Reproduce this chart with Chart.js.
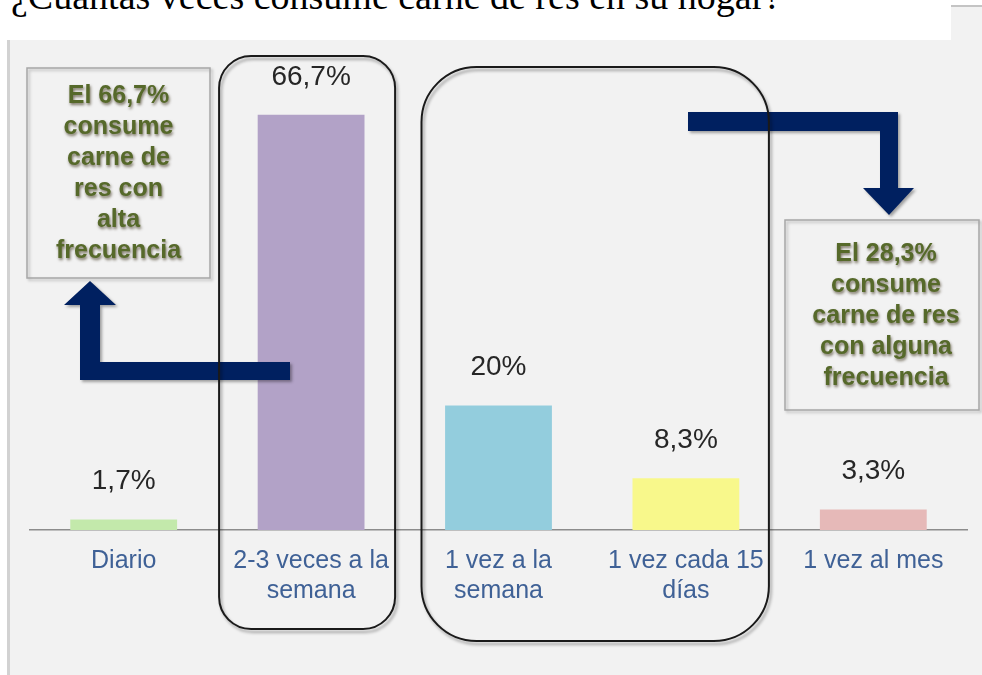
<!DOCTYPE html>
<html>
<head>
<meta charset="utf-8">
<script src="https://cdn.jsdelivr.net/npm/chart.js@4/dist/chart.umd.min.js"></script>
<style>
  html, body { margin:0; padding:0; background:#ffffff; width:982px; height:675px; overflow:hidden; }
  #panel { position:absolute; left:7px; top:5px; width:972px; height:670px; background:#f2f2f2;
           border-left:3px solid #d2d2d2; border-top:2px solid #c4c4c4; }
  #titlebox { position:absolute; left:0; top:0; width:951px; height:40px; background:#ffffff; overflow:hidden; }
  #title { position:absolute; left:11px; top:-23px; font-family:"Liberation Serif","Times New Roman",serif;
           font-size:38px; line-height:38px; color:#000; white-space:nowrap; }
  #c { position:absolute; left:0; top:0; }
</style>
</head>
<body>
<div id="panel"></div>
<div id="titlebox"><div id="title">¿Cuántas veces consume carne de res en su hogar?</div></div>
<canvas id="c" width="982" height="675"></canvas>
<script>
const categories = ["Diario", ["2-3 veces a la", "semana"], ["1 vez a la", "semana"], ["1 vez cada 15", "días"], "1 vez al mes"];
const values = [1.7, 66.7, 20, 8.3, 3.3];
const barColors = ["#c3e9ab", "#b2a2c7", "#93cddd", "#f8f88b", "#e6b9b8"];
const noteLeft = ["El 66,7%", "consume", "carne de", "res con", "alta", "frecuencia"];
const noteRight = ["El 28,3%", "consume", "carne de res", "con alguna", "frecuencia"];

function fmt(v) { return String(v).replace('.', ',') + '%'; }

function roundRect(ctx, x, y, w, h, r) {
  ctx.beginPath();
  ctx.moveTo(x + r, y);
  ctx.lineTo(x + w - r, y);
  ctx.arcTo(x + w, y, x + w, y + r, r);
  ctx.lineTo(x + w, y + h - r);
  ctx.arcTo(x + w, y + h, x + w - r, y + h, r);
  ctx.lineTo(x + r, y + h);
  ctx.arcTo(x, y + h, x, y + h - r, r);
  ctx.lineTo(x, y + r);
  ctx.arcTo(x, y, x + r, y, r);
  ctx.closePath();
}

const overlay = {
  id: 'overlay',
  afterDraw(chart) {
    const ctx = chart.ctx;
    const xs = chart.scales.x;
    const meta = chart.getDatasetMeta(0);

    // arrows
    ctx.save();
    ctx.fillStyle = '#002060';
    ctx.shadowColor = 'rgba(0,0,0,0.35)';
    ctx.shadowBlur = 3; ctx.shadowOffsetX = 2; ctx.shadowOffsetY = 2;
    // left arrow (from purple bar up to left note)
    ctx.beginPath();
    ctx.moveTo(290, 362); ctx.lineTo(290, 380); ctx.lineTo(80, 380); ctx.lineTo(80, 305);
    ctx.lineTo(64, 305); ctx.lineTo(90, 281); ctx.lineTo(116, 305); ctx.lineTo(100, 305);
    ctx.lineTo(100, 362); ctx.closePath(); ctx.fill();
    // right arrow (down to right note)
    ctx.beginPath();
    ctx.moveTo(688, 112); ctx.lineTo(898, 112); ctx.lineTo(898, 188); ctx.lineTo(914, 188);
    ctx.lineTo(889, 215); ctx.lineTo(863, 188); ctx.lineTo(880, 188); ctx.lineTo(880, 131);
    ctx.lineTo(688, 131); ctx.closePath(); ctx.fill();
    ctx.restore();

    // rounded group frames
    ctx.save();
    ctx.strokeStyle = '#1a1a1a';
    ctx.lineWidth = 2;
    ctx.shadowColor = 'rgba(0,0,0,0.35)';
    ctx.shadowBlur = 3; ctx.shadowOffsetX = 2; ctx.shadowOffsetY = 3;
    const c1 = xs.getPixelForValue(1);
    roundRect(ctx, c1 - 92, 56, 176, 573, 32); ctx.stroke();
    const c2 = xs.getPixelForValue(2), c3 = xs.getPixelForValue(3);
    roundRect(ctx, c2 - 77, 67, (c3 + 83) - (c2 - 77), 574, 55); ctx.stroke();
    ctx.restore();

    // note boxes
    ctx.save();
    ctx.strokeStyle = '#a6a6a6';
    ctx.lineWidth = 1.5;
    ctx.shadowColor = 'rgba(0,0,0,0.25)';
    ctx.shadowBlur = 3; ctx.shadowOffsetX = 2; ctx.shadowOffsetY = 2;
    ctx.strokeRect(27, 68, 183, 210);
    ctx.strokeRect(785, 220, 194, 190);
    ctx.restore();

    ctx.save();
    ctx.font = 'bold 25px "Liberation Sans", Arial, sans-serif';
    ctx.textAlign = 'center';
    ctx.textBaseline = 'middle';
    ctx.fillStyle = '#56692a';
    ctx.shadowColor = 'rgba(40,30,0,0.6)';
    ctx.shadowBlur = 3; ctx.shadowOffsetX = 1; ctx.shadowOffsetY = 2;
    noteLeft.forEach((t, i) => ctx.fillText(t, 118.5, 96 + i * 31));
    noteRight.forEach((t, i) => ctx.fillText(t, 886, 254 + i * 31));
    ctx.restore();

    // value labels
    ctx.save();
    ctx.font = '28px "Liberation Sans", Arial, sans-serif';
    ctx.textAlign = 'center';
    ctx.textBaseline = 'middle';
    ctx.fillStyle = '#262626';
    meta.data.forEach((bar, i) => {
      ctx.fillText(fmt(values[i]), bar.x, bar.y - 38);
    });
    ctx.restore();
  }
};

new Chart(document.getElementById('c'), {
  type: 'bar',
  data: {
    labels: categories,
    datasets: [{
      data: values,
      backgroundColor: barColors,
      borderWidth: 0,
      categoryPercentage: 1,
      barPercentage: 0.57
    }]
  },
  options: {
    responsive: false,
    animation: false,
    layout: { padding: { left: 30, right: 15, top: 32, bottom: 0 } },
    plugins: { legend: { display: false }, tooltip: { enabled: false } },
    scales: {
      x: {
        grid: { display: false, drawTicks: false },
        border: { display: true, color: '#8c8c8c', width: 1.5 },
        ticks: {
          color: '#3f6196',
          font: { family: '"Liberation Sans", Arial, sans-serif', size: 25 },
          padding: 16, maxRotation: 0, autoSkip: false
        },
        afterFit(s) { s.height = 145; }
      },
      y: { display: false, min: 0, max: 80 }
    }
  },
  plugins: [overlay]
});
</script>
</body>
</html>
